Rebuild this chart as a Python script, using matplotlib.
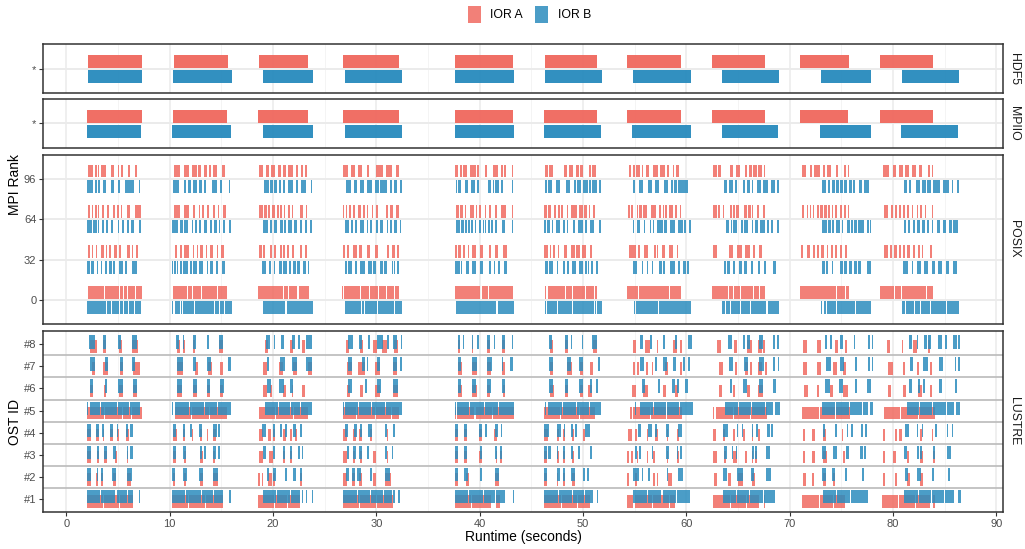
import matplotlib
matplotlib.use("Agg")
import matplotlib.pyplot as plt
from matplotlib.patches import Rectangle

plt.rcParams['font.family'] = ['Liberation Sans', 'DejaVu Sans']

# DATA - (start, end) in seconds
# HDF5 and MPIIO: one long bar per iteration
hdf5_a = [(2.10, 7.33), (10.42, 15.65), (18.65, 23.39), (26.78, 32.20), (37.62, 43.23),
          (46.30, 51.33), (54.29, 59.52), (62.49, 67.59), (70.98, 75.78), (78.78, 83.88)]
hdf5_b = [(2.10, 7.33), (10.33, 16.04), (19.03, 23.87), (26.97, 32.49), (37.62, 43.33),
          (46.30, 51.81), (54.81, 60.49), (63.46, 68.94), (73.01, 77.91), (80.90, 86.39)]
mpiio_a = [(2.00, 7.33), (10.33, 15.55), (18.55, 23.39), (26.78, 32.20), (37.62, 43.23),
           (46.20, 51.33), (54.29, 59.52), (62.49, 67.59), (70.98, 75.68), (78.78, 83.88)]
mpiio_b = [(2.00, 7.23), (10.23, 15.94), (19.03, 23.87), (26.97, 32.49), (37.62, 43.33),
           (46.20, 51.72), (54.78, 60.43), (63.46, 68.85), (72.91, 77.91), (80.81, 86.29)]

# POSIX, per MPI rank
rank_ticks = [0, 32, 64, 96]
posix_a_0 = [(2.10, 3.63), (3.73, 5.08), (5.18, 5.47), (5.57, 5.89), (5.99, 6.60), (6.70, 7.33),
             (10.33, 11.63), (11.73, 12.12), (12.22, 12.99), (13.09, 14.60), (14.70, 15.55),
             (18.55, 20.95), (21.05, 21.41), (21.51, 22.37), (22.47, 23.49),
             (26.70, 26.80), (26.90, 28.44), (28.54, 29.27), (29.37, 30.14), (30.24, 30.95), (31.05, 31.75), (31.85, 32.20),
             (37.62, 40.08), (40.18, 40.85), (40.95, 43.23),
             (46.30, 46.42), (46.58, 48.28), (48.38, 48.95), (49.05, 50.18), (50.28, 51.08), (51.20, 51.33),
             (54.29, 55.30), (55.42, 58.28), (58.40, 59.52),
             (62.49, 64.08), (64.18, 64.50), (64.60, 65.15), (65.25, 66.44), (66.54, 67.02), (67.12, 67.59),
             (70.98, 74.47), (74.57, 75.34), (75.44, 75.78),
             (78.78, 80.08), (80.18, 80.76), (80.86, 83.22), (83.32, 83.88)]
posix_b_0 = [(2.00, 3.86), (3.96, 4.30), (4.40, 5.08), (5.18, 5.44), (5.54, 5.92), (6.02, 6.53), (6.63, 7.23),
             (10.23, 10.30), (10.38, 10.45), (10.55, 11.00), (11.08, 11.22), (11.32, 12.32), (12.42, 14.25), (14.35, 14.74), (14.84, 15.30), (15.40, 16.04),
             (19.03, 21.20), (21.32, 23.87),
             (26.97, 28.47), (28.57, 28.76), (28.86, 30.11), (30.21, 31.75), (31.85, 32.49),
             (37.70, 41.60), (41.78, 43.33),
             (46.30, 46.38), (46.52, 47.45), (47.55, 48.93), (49.03, 51.02), (51.12, 51.28), (51.40, 51.81),
             (54.81, 54.87), (54.95, 55.08), (55.18, 57.28), (57.38, 60.49),
             (63.46, 63.70), (63.80, 64.21), (64.31, 65.15), (65.25, 66.18), (66.28, 67.76), (67.86, 68.94),
             (73.01, 73.18), (73.28, 73.54), (73.64, 74.51), (74.61, 76.31), (76.41, 77.91),
             (80.90, 81.18), (81.28, 82.02), (82.12, 82.57), (82.67, 83.54), (83.64, 85.15), (85.25, 86.39)]
posix_a_32 = [(2.10, 2.30), (2.49, 2.61), (2.87, 2.97), (3.36, 3.65), (3.84, 3.97), (4.16, 4.35), (4.62, 4.94), (5.13, 5.26), (5.84, 6.16), (6.33, 6.48), (6.75, 6.91),
              (10.52, 10.68), (11.00, 11.17), (11.42, 11.85), (12.23, 12.36), (12.62, 12.78), (12.94, 13.26), (13.49, 13.65), (13.91, 14.23), (14.56, 14.71), (14.94, 15.26),
              (18.65, 18.97), (19.07, 19.26), (19.71, 19.88), (20.10, 20.29), (20.68, 20.84), (21.00, 21.16), (21.39, 21.58), (21.84, 22.04), (22.62, 22.78), (23.10, 23.26),
              (26.78, 26.97), (27.14, 27.39), (27.77, 28.10), (28.36, 28.59), (29.07, 29.39), (29.87, 30.20), (31.00, 31.26), (31.49, 31.80), (31.97, 32.20),
              (37.62, 37.85), (37.92, 38.17), (38.42, 38.58), (38.84, 38.94), (39.23, 39.62), (40.04, 40.36), (40.88, 41.07), (41.49, 41.81), (42.29, 42.62),
              (46.23, 46.65), (46.81, 46.94), (47.13, 47.26), (47.61, 47.71), (48.17, 48.43), (48.84, 49.20), (49.28, 49.71), (49.94, 50.27), (50.68, 50.88),
              (54.46, 54.70), (54.78, 55.10), (55.36, 55.52), (55.91, 56.32), (56.90, 57.04), (57.14, 57.29), (57.62, 57.94), (58.36, 58.68), (59.07, 59.23),
              (62.58, 62.94), (64.16, 64.55), (64.94, 65.36), (65.68, 66.17), (66.49, 66.65), (67.07, 67.33),
              (71.10, 71.33), (71.65, 71.97), (72.23, 72.46), (72.62, 72.88), (73.01, 73.33), (73.59, 73.75), (73.97, 74.17), (74.39, 74.56), (74.88, 75.04), (75.36, 75.55),
              (79.13, 79.55), (79.71, 79.88), (80.10, 80.36), (80.59, 80.78), (81.00, 81.17), (81.39, 81.65), (81.97, 82.14), (82.46, 82.62), (82.78, 82.94), (83.59, 83.75)]
posix_b_32 = [(2.00, 2.30), (2.39, 2.71), (2.94, 3.10), (3.33, 3.43), (3.75, 3.97), (4.16, 4.39), (4.55, 4.71), (5.13, 5.46), (5.68, 5.84), (6.33, 6.81),
              (10.23, 10.36), (10.45, 10.59), (10.68, 10.84), (11.00, 11.17), (11.32, 11.81), (11.97, 12.13), (12.29, 12.62), (12.84, 13.26), (13.59, 13.74), (13.91, 14.23), (14.49, 14.71), (15.04, 15.36),
              (18.94, 19.33), (19.65, 19.81), (20.10, 20.23), (20.56, 20.84), (20.94, 21.39), (21.58, 21.72), (21.97, 22.25), (22.33, 22.62), (22.94, 23.20), (23.39, 23.52),
              (26.97, 27.14), (27.29, 27.62), (27.94, 28.10), (28.42, 28.91), (29.23, 29.56), (29.71, 29.97), (30.36, 30.65), (30.72, 31.00), (31.49, 31.62), (31.71, 31.81), (31.97, 32.17),
              (37.62, 38.10), (38.20, 38.29), (38.68, 38.97), (39.23, 39.62), (40.04, 40.29), (40.88, 41.07), (41.36, 41.52), (41.75, 41.97), (42.36, 42.62),
              (46.33, 46.65), (46.74, 47.07), (47.46, 47.59), (48.10, 48.26), (48.42, 48.65), (48.91, 49.30), (49.65, 50.04), (50.20, 50.36), (50.46, 50.62), (50.78, 51.00), (51.23, 51.43),
              (54.84, 55.26), (55.68, 55.84), (56.17, 56.32), (56.65, 56.81), (57.33, 57.62), (57.72, 57.91), (58.42, 58.91), (59.23, 59.39), (59.71, 59.95), (60.02, 60.26),
              (63.65, 63.84), (63.97, 64.23), (64.55, 64.68), (65.13, 65.36), (65.62, 65.84), (66.23, 66.49), (66.97, 67.13), (67.52, 67.71), (68.36, 68.68),
              (73.14, 73.42), (73.50, 73.75), (74.07, 74.23), (74.88, 75.14), (75.29, 75.52), (75.78, 76.01), (76.23, 76.49), (76.65, 76.88), (77.46, 77.85),
              (81.00, 81.49), (81.81, 81.97), (82.30, 82.68), (83.04, 83.42), (83.75, 84.07), (84.39, 84.72), (85.14, 85.46), (85.84, 86.17)]
posix_a_64 = [(2.10, 2.30), (2.46, 2.61), (2.78, 2.94), (3.07, 3.19), (3.46, 3.65), (3.97, 4.13), (4.49, 4.71), (4.91, 5.07), (5.26, 5.42), (5.90, 6.19), (6.62, 7.20),
              (10.42, 11.00), (11.39, 11.85), (12.29, 12.46), (12.81, 12.94), (13.16, 13.33), (13.59, 13.84), (14.23, 14.39), (14.71, 14.81), (15.13, 15.46),
              (18.65, 19.05), (19.12, 19.40), (19.47, 19.71), (19.88, 20.20), (20.42, 20.58), (20.71, 20.87), (21.04, 21.19), (21.46, 21.62), (21.84, 21.97), (22.62, 22.94), (23.20, 23.32),
              (26.78, 26.90), (27.04, 27.14), (27.36, 27.52), (27.77, 27.97), (28.26, 28.49), (28.74, 28.91), (29.07, 29.23), (29.56, 29.71), (29.97, 30.20), (30.94, 31.16), (31.33, 31.65), (31.91, 32.20),
              (37.71, 38.00), (38.10, 38.39), (38.58, 38.68), (39.07, 39.23), (39.29, 39.45), (39.65, 39.75), (39.94, 40.10), (40.52, 40.65), (40.94, 41.07), (41.49, 41.65), (42.07, 42.23), (42.29, 42.55), (43.13, 43.23),
              (46.23, 46.49), (46.62, 46.91), (47.23, 47.36), (47.61, 47.78), (47.87, 48.04), (48.42, 48.55), (48.81, 49.01), (49.07, 49.39), (49.59, 49.97), (50.10, 50.36), (50.59, 50.68), (51.00, 51.16),
              (54.36, 54.55), (54.68, 54.87), (55.20, 55.36), (55.45, 55.68), (55.84, 56.17), (56.59, 57.04), (57.36, 57.52), (57.72, 57.84), (57.97, 58.16), (58.36, 58.68), (58.91, 59.07), (59.39, 59.49),
              (62.58, 62.94), (63.10, 63.26), (63.52, 63.65), (64.23, 64.46), (64.55, 64.68), (64.81, 65.07), (65.59, 65.90), (65.97, 66.23), (66.33, 66.49), (66.87, 67.07), (67.45, 67.59),
              (71.20, 71.42), (71.65, 71.75), (71.97, 72.10), (72.29, 72.39), (72.62, 72.81), (72.94, 73.25), (73.32, 73.59), (73.75, 73.91), (74.07, 74.23), (74.39, 74.56), (74.88, 75.04), (75.27, 75.43), (75.62, 75.72),
              (79.13, 79.55), (79.78, 79.97), (80.20, 80.36), (80.59, 80.75), (81.00, 81.17), (81.39, 81.58), (81.81, 81.97), (82.30, 82.39), (82.62, 82.78), (83.10, 83.20), (83.75, 83.88)]
posix_b_64 = [(2.00, 2.46), (2.55, 2.94), (3.07, 3.16), (3.48, 3.68), (3.84, 4.00), (4.33, 4.49), (4.97, 5.13), (5.39, 5.58), (5.90, 6.10), (6.29, 6.58), (7.06, 7.20),
              (10.23, 10.84), (11.03, 11.26), (11.39, 11.81), (12.13, 12.29), (12.48, 12.68), (12.87, 13.01), (13.33, 13.59), (13.91, 14.10), (14.32, 14.56), (14.75, 14.88), (15.19, 15.36), (15.77, 15.94),
              (19.03, 19.55), (19.71, 19.91), (20.10, 20.36), (20.68, 20.94), (21.10, 21.26), (21.48, 21.81), (22.04, 22.29), (22.62, 22.84), (23.13, 23.32), (23.58, 23.78),
              (26.97, 27.39), (27.55, 27.77), (27.94, 28.16), (28.42, 28.81), (29.07, 29.23), (29.39, 29.56), (29.97, 30.14), (30.36, 30.68), (31.00, 31.16), (31.33, 31.55), (31.71, 31.97), (32.29, 32.39),
              (37.71, 38.10), (38.20, 38.49), (38.62, 38.78), (38.91, 39.07), (39.19, 39.39), (39.55, 39.65), (39.97, 40.10), (40.30, 40.42), (40.52, 40.62), (40.81, 41.00), (41.10, 41.32), (41.52, 41.71), (42.13, 42.42), (43.13, 43.23),
              (46.23, 46.43), (46.55, 46.81), (46.97, 47.13), (47.39, 47.78), (48.10, 48.26), (48.42, 48.55), (49.07, 49.23), (49.55, 50.04), (50.20, 50.36), (50.68, 51.07), (51.55, 51.75),
              (54.84, 54.97), (55.20, 55.52), (55.91, 56.03), (56.49, 56.62), (56.75, 56.91), (57.13, 57.72), (57.84, 58.10), (58.42, 58.91), (59.23, 59.65), (59.78, 59.97), (60.23, 60.43),
              (63.84, 64.17), (64.31, 64.46), (64.55, 64.94), (65.27, 65.46), (65.59, 66.00), (66.33, 66.49), (66.65, 66.97), (67.13, 67.62), (67.78, 68.00), (68.17, 68.42), (68.75, 68.94),
              (73.14, 73.59), (73.75, 73.97), (74.14, 74.33), (74.49, 74.88), (75.04, 75.20), (75.58, 75.84), (75.91, 76.17), (76.26, 76.49), (76.65, 77.20), (77.46, 77.65), (77.80, 77.91),
              (81.07, 81.26), (81.49, 81.65), (81.91, 82.14), (82.36, 82.62), (82.78, 83.10), (83.27, 83.52), (83.75, 83.91), (84.23, 84.55), (84.81, 85.14), (85.45, 85.69), (85.84, 86.33)]
posix_a_96 = [(2.10, 2.61), (2.81, 2.94), (3.07, 3.19), (3.36, 3.84), (4.35, 4.65), (4.97, 5.13), (5.29, 5.46), (5.94, 6.19), (6.62, 6.84),
              (10.42, 11.00), (11.39, 11.85), (12.19, 12.62), (12.75, 13.04), (13.32, 13.59), (13.84, 13.97), (14.23, 14.61), (15.10, 15.39),
              (18.65, 19.07), (19.30, 19.65), (19.84, 20.23), (20.46, 20.75), (20.94, 21.26), (21.48, 21.97), (22.26, 22.39), (22.74, 22.88), (23.13, 23.32),
              (26.78, 27.29), (27.52, 27.91), (28.20, 28.62), (29.07, 29.32), (29.97, 30.62), (30.94, 31.52), (31.88, 32.20),
              (37.62, 37.94), (38.10, 38.29), (38.42, 38.78), (39.07, 39.62), (39.77, 39.97), (40.52, 40.74), (41.29, 41.81), (42.07, 42.23), (42.36, 42.55), (43.13, 43.23),
              (46.33, 46.65), (46.74, 47.13), (48.17, 48.49), (48.65, 49.01), (49.33, 49.59), (49.71, 49.97), (50.59, 50.81), (50.90, 51.26),
              (54.46, 54.65), (54.87, 55.00), (55.13, 55.52), (55.74, 55.84), (56.10, 56.42), (56.81, 57.26), (57.46, 57.94), (58.16, 58.36), (58.69, 58.81), (58.98, 59.30),
              (62.58, 62.94), (63.10, 63.36), (64.23, 64.55), (64.81, 65.20), (65.68, 65.90), (66.10, 66.33), (66.49, 66.81), (66.97, 67.33), (67.50, 67.59),
              (71.20, 71.60), (71.97, 72.20), (72.39, 72.94), (73.20, 73.43), (73.62, 73.98), (74.49, 74.71), (75.27, 75.43), (75.68, 75.78),
              (79.04, 79.64), (79.97, 80.29), (80.62, 81.00), (81.19, 81.58), (81.87, 82.23), (82.55, 82.78), (83.36, 83.58), (83.78, 83.88)]
posix_b_96 = [(2.00, 2.61), (2.78, 2.94), (3.07, 3.26), (3.55, 3.81), (4.35, 4.59), (4.97, 5.17), (5.65, 6.04), (6.10, 6.55), (7.04, 7.10),
              (10.33, 10.94), (11.42, 11.56), (11.81, 12.04), (12.23, 12.62), (12.87, 13.10), (13.30, 13.49), (14.10, 14.56), (14.87, 15.04), (15.77, 15.87),
              (19.13, 19.60), (19.68, 20.00), (20.06, 20.36), (20.61, 20.78), (21.00, 21.19), (21.46, 21.91), (22.23, 22.39), (22.71, 23.20), (23.68, 23.78),
              (27.07, 27.52), (27.87, 28.10), (28.42, 28.81), (29.07, 29.56), (29.87, 30.30), (30.40, 31.00), (31.33, 31.55), (31.71, 31.97), (32.29, 32.49),
              (37.71, 37.81), (37.91, 38.23), (38.58, 38.91), (39.19, 39.58), (39.77, 39.94), (40.81, 41.13), (41.29, 41.39), (41.52, 41.90), (42.07, 42.23), (43.13, 43.23),
              (46.33, 46.49), (46.62, 47.00), (47.39, 47.78), (48.36, 48.71), (49.13, 49.33), (49.45, 49.81), (49.97, 50.46), (50.56, 50.78), (50.87, 51.33), (51.55, 51.75),
              (54.84, 55.03), (55.42, 55.81), (56.32, 56.65), (56.97, 57.39), (57.84, 58.26), (58.52, 58.68), (58.78, 59.13), (59.23, 59.65), (59.71, 60.17),
              (63.65, 63.91), (64.10, 64.49), (64.71, 64.94), (65.52, 65.68), (65.84, 66.17), (66.33, 66.49), (66.87, 67.23), (67.45, 67.94), (68.17, 68.59), (68.75, 68.94),
              (73.14, 73.53), (73.69, 73.91), (74.10, 74.37), (74.52, 74.75), (74.88, 75.14), (75.29, 75.58), (75.78, 76.01), (76.16, 76.36), (76.74, 77.01), (77.17, 77.65),
              (81.07, 81.33), (81.55, 81.72), (82.23, 82.62), (82.78, 83.20), (83.33, 83.72), (83.91, 84.55), (84.82, 85.45), (85.69, 85.84), (86.17, 86.36)]

# LUSTRE, per OST
ost_labels = ['#1', '#2', '#3', '#4', '#5', '#6', '#7', '#8']
ost1_a = [(2.03, 3.50), (3.60, 5.10), (5.20, 6.48), (10.19, 11.80), (11.90, 13.40), (13.50, 15.13), (18.58, 20.10), (20.20, 21.40), (21.50, 22.61),
          (26.74, 28.30), (28.40, 30.00), (30.10, 31.60), (37.62, 39.20), (39.30, 41.07), (41.59, 41.98), (46.23, 47.90), (48.00, 49.40), (49.50, 50.69),
          (54.30, 54.88), (55.04, 56.70), (56.80, 58.30), (58.40, 58.90), (62.62, 64.20), (64.30, 65.80), (65.90, 67.07), (67.52, 67.62),
          (71.17, 72.80), (72.90, 74.20), (74.30, 75.36), (78.91, 80.50), (80.60, 82.10), (82.20, 83.59), (83.91, 84.07)]
ost1_b = [(2.03, 3.30), (3.40, 4.71), (4.87, 5.90), (6.00, 6.48), (7.06, 7.13), (10.19, 11.50), (11.60, 13.00), (13.10, 14.20), (14.30, 15.19), (15.77, 15.90),
          (19.00, 20.30), (20.40, 21.60), (21.70, 22.61), (22.77, 22.94), (23.19, 23.32), (23.74, 23.90), (26.81, 28.10), (28.20, 29.40), (29.50, 30.60),
          (30.70, 31.50), (31.65, 31.81), (32.14, 32.30), (37.62, 38.90), (39.00, 40.30), (40.40, 41.50), (41.60, 42.46), (43.27, 43.33),
          (46.23, 47.60), (47.70, 48.90), (49.00, 50.10), (50.20, 51.01), (51.33, 51.49), (54.88, 56.20), (56.30, 57.60), (57.70, 59.00), (59.10, 60.36),
          (63.52, 64.80), (64.90, 66.10), (66.20, 67.40), (67.50, 68.59), (73.20, 74.50), (74.60, 75.80), (75.90, 77.62),
          (81.07, 82.40), (82.50, 83.70), (83.80, 84.90), (85.00, 85.91), (86.33, 86.56)]
ost2_a = [(2.03, 2.35), (2.87, 3.03), (3.32, 3.52), (4.48, 4.81), (5.84, 6.23), (10.35, 10.52), (11.39, 11.58), (12.94, 13.26), (14.23, 14.71),
          (18.58, 18.74), (18.90, 19.06), (19.55, 19.87), (20.03, 20.19), (22.61, 22.77), (26.81, 27.13), (27.61, 27.94), (28.35, 28.58), (29.71, 29.97), (30.84, 31.39),
          (37.62, 37.94), (38.69, 39.01), (41.49, 41.91), (46.23, 46.56), (47.46, 47.62), (48.10, 48.27), (48.91, 49.23),
          (54.23, 54.49), (55.04, 55.27), (56.81, 56.98), (57.14, 57.30), (58.27, 58.59), (62.69, 62.94), (64.07, 64.30), (65.04, 65.52), (66.33, 66.65),
          (71.33, 71.59), (72.14, 72.36), (73.20, 73.52), (74.17, 74.40), (79.01, 79.23), (80.20, 80.43), (81.33, 81.65), (82.62, 82.88)]
ost2_b = [(2.03, 2.35), (2.94, 3.10), (3.32, 3.52), (4.39, 4.81), (5.84, 6.32), (10.19, 10.52), (11.32, 11.65), (12.87, 13.19), (14.23, 14.71),
          (19.39, 19.65), (20.03, 20.29), (21.16, 21.32), (21.97, 22.23), (22.61, 22.77), (27.06, 27.39), (27.61, 27.94), (28.10, 28.48), (29.39, 29.55), (30.84, 31.32),
          (37.62, 37.94), (38.49, 38.91), (40.04, 40.20), (41.49, 41.91), (46.23, 46.56), (47.46, 47.78), (48.10, 48.27), (48.81, 49.23), (50.04, 50.20), (50.36, 50.62),
          (54.88, 55.46), (55.69, 55.85), (56.33, 56.49), (58.10, 58.27), (59.24, 59.65), (63.52, 63.98), (64.94, 65.52), (66.23, 66.56), (67.72, 68.17),
          (73.10, 73.52), (74.07, 74.40), (75.36, 75.59), (76.98, 77.20), (81.17, 81.49), (82.30, 82.69), (83.75, 83.98), (85.36, 85.52)]
ost3_a = [(2.03, 2.35), (2.94, 3.16), (3.65, 3.90), (4.71, 4.87), (5.84, 6.00), (10.35, 10.61), (11.39, 11.58), (12.94, 13.19), (14.23, 14.39),
          (18.68, 19.00), (19.65, 19.97), (21.00, 21.16), (21.65, 21.81), (26.74, 27.13), (27.77, 27.94), (28.42, 28.58), (29.71, 29.97), (31.00, 31.16),
          (37.62, 37.94), (38.49, 38.81), (39.98, 40.20), (41.59, 41.72), (41.98, 42.14), (46.23, 46.49), (47.46, 47.72), (48.10, 48.27), (48.91, 49.14),
          (54.30, 54.49), (54.62, 54.81), (55.20, 55.36), (56.17, 56.33), (56.81, 56.98), (58.10, 58.27), (59.14, 59.33),
          (62.62, 62.94), (63.65, 63.85), (64.56, 64.88), (65.68, 65.85), (66.33, 66.49), (66.65, 66.88), (71.27, 71.49), (72.14, 72.46), (73.20, 73.65), (75.20, 75.36),
          (79.01, 79.23), (80.04, 80.30), (81.33, 81.59), (82.62, 82.88), (83.91, 84.07)]
ost3_b = [(2.03, 2.35), (2.94, 3.16), (3.65, 3.90), (4.55, 4.81), (5.84, 6.00), (6.16, 6.42), (10.35, 10.61), (11.32, 11.58), (12.94, 13.10), (13.32, 13.52),
          (14.23, 14.48), (14.71, 14.87), (19.06, 19.32), (19.97, 20.19), (21.00, 21.16), (21.65, 21.81), (22.45, 22.61), (22.77, 22.94),
          (27.13, 27.39), (27.77, 28.03), (28.35, 28.58), (29.06, 29.32), (30.84, 31.06), (31.48, 31.65), (37.62, 37.94), (38.49, 38.81), (40.04, 40.20),
          (41.49, 41.72), (41.98, 42.14), (46.23, 46.49), (46.65, 46.88), (47.46, 47.62), (48.10, 48.27), (48.85, 49.07), (49.56, 49.72), (50.69, 50.85),
          (55.04, 55.27), (55.46, 55.59), (56.65, 56.81), (58.04, 58.36), (59.07, 59.24), (59.40, 59.56), (63.65, 63.98), (64.39, 64.56), (64.81, 64.94),
          (66.33, 66.55), (66.65, 66.88), (67.72, 68.10), (73.10, 73.52), (74.23, 74.62), (75.46, 75.78), (76.81, 77.14), (77.20, 77.39),
          (81.07, 81.33), (82.30, 82.50), (82.58, 82.78), (83.91, 84.07), (85.20, 85.59)]
ost4_a = [(2.03, 2.35), (2.87, 3.19), (3.52, 3.65), (4.23, 4.55), (4.94, 5.13), (5.77, 6.10), (10.35, 10.68), (11.32, 11.48), (12.13, 12.29), (12.94, 13.10),
          (13.58, 13.74), (14.23, 14.48), (18.68, 19.06), (19.55, 19.77), (20.03, 20.19), (21.00, 21.26), (21.65, 21.81), (22.13, 22.35),
          (26.81, 27.19), (27.77, 28.03), (28.35, 28.58), (29.39, 29.55), (31.00, 31.16), (37.62, 37.94), (38.49, 38.81), (39.98, 40.20), (41.39, 41.65),
          (46.23, 46.65), (47.46, 47.72), (48.10, 48.27), (48.91, 49.14), (50.04, 50.20), (54.40, 54.72), (55.04, 55.20), (56.17, 56.33), (56.98, 57.30),
          (58.10, 58.27), (59.07, 59.33), (62.62, 62.88), (63.52, 63.75), (64.56, 64.72), (65.52, 65.68), (66.33, 66.49), (66.98, 67.14),
          (71.33, 71.49), (72.14, 72.46), (73.20, 73.52), (75.04, 75.20), (79.07, 79.23), (80.20, 80.36), (80.62, 80.85), (82.62, 82.78), (83.75, 83.91)]
ost4_b = [(2.03, 2.35), (2.87, 3.19), (3.42, 3.65), (4.23, 4.55), (4.87, 5.03), (5.77, 6.00), (6.16, 6.42), (10.35, 10.61), (11.26, 11.48), (11.97, 12.13),
          (12.87, 13.10), (14.23, 14.55), (14.71, 14.87), (18.90, 19.32), (19.97, 20.19), (20.68, 20.84), (21.16, 21.39), (21.97, 22.23), (22.61, 22.77),
          (26.97, 27.29), (27.84, 28.10), (28.42, 28.58), (29.23, 29.55), (30.84, 31.06), (31.65, 31.81), (37.62, 37.94), (38.49, 38.81), (39.98, 40.20),
          (40.52, 40.68), (41.49, 41.81), (42.07, 42.20), (46.23, 46.75), (47.46, 47.85), (48.17, 48.27), (48.85, 49.07), (49.23, 49.46), (50.20, 50.69),
          (55.36, 55.59), (56.33, 56.65), (56.98, 57.20), (58.04, 58.36), (59.24, 59.56), (63.59, 64.07), (64.88, 65.04), (65.36, 65.52), (66.33, 66.49),
          (66.75, 66.98), (67.78, 68.10), (68.17, 68.36), (73.20, 73.43), (74.40, 74.62), (75.52, 75.69), (75.91, 76.10), (76.88, 77.14), (77.30, 77.46),
          (81.17, 81.59), (82.30, 82.46), (82.78, 82.94), (84.07, 84.30), (85.20, 85.36), (85.69, 85.85)]
ost5_a = [(2.03, 3.60), (3.70, 5.40), (5.50, 6.30), (6.40, 7.29), (10.52, 12.10), (12.20, 13.80), (13.90, 15.52),
          (18.68, 20.20), (20.30, 21.90), (22.00, 23.42), (26.81, 28.00), (28.10, 29.90), (30.00, 31.40), (31.50, 32.20),
          (37.62, 37.70), (37.78, 39.50), (39.60, 41.20), (41.30, 43.33), (46.23, 47.80), (47.90, 49.60), (49.70, 51.17),
          (54.56, 54.70), (54.88, 56.50), (56.60, 58.00), (58.10, 59.56), (62.62, 62.72), (62.85, 64.50), (64.60, 66.20), (66.30, 67.78),
          (71.17, 72.80), (72.90, 74.40), (74.50, 75.85), (79.14, 80.70), (80.80, 82.40), (82.50, 84.07)]
ost5_b = [(2.03, 2.10), (2.29, 3.30), (3.40, 4.90), (5.00, 6.10), (6.20, 7.13), (10.26, 10.33), (10.52, 11.90), (12.00, 13.30), (13.40, 14.60), (14.70, 15.90),
          (19.23, 20.50), (20.60, 21.60), (21.70, 22.60), (22.70, 23.74), (26.81, 26.88), (26.97, 28.20), (28.30, 29.50), (29.60, 30.80), (30.90, 32.49),
          (37.62, 37.72), (37.78, 39.00), (39.10, 40.40), (40.50, 41.80), (41.90, 43.33), (46.33, 46.42), (46.65, 48.00), (48.10, 49.30), (49.40, 50.60), (50.70, 51.72),
          (55.04, 55.12), (55.52, 56.80), (56.90, 58.00), (58.10, 59.30), (59.40, 60.69), (63.75, 65.00), (65.10, 66.30), (66.40, 67.60), (67.70, 68.40), (68.60, 69.07),
          (73.10, 74.40), (74.50, 75.70), (75.80, 77.00), (77.10, 77.60), (77.80, 78.10), (81.33, 82.50), (82.60, 83.80), (83.90, 85.10), (85.20, 85.90), (86.10, 86.49)]
ost6_a = [(2.29, 2.61), (3.65, 3.84), (5.13, 5.52), (6.48, 6.87), (10.74, 11.16), (12.29, 12.61), (13.65, 13.90), (14.87, 15.13), (19.00, 19.39), (19.71, 19.87),
          (21.00, 21.26), (21.81, 21.97), (22.77, 23.10), (27.13, 27.45), (28.42, 28.74), (29.87, 30.35), (31.59, 32.14), (37.94, 38.27), (39.23, 39.78),
          (40.75, 41.01), (42.23, 42.46), (46.81, 47.20), (48.27, 48.59), (49.72, 49.98), (50.52, 50.85), (54.72, 55.14), (55.85, 56.33), (57.72, 58.04),
          (58.91, 59.24), (63.20, 63.43), (64.56, 64.72), (65.85, 66.17), (66.98, 67.39), (71.39, 71.81), (72.69, 72.88), (73.91, 74.17), (75.20, 75.69),
          (79.56, 79.78), (80.94, 81.27), (82.46, 82.78), (83.59, 83.81)]
ost6_b = [(2.29, 2.61), (3.74, 3.90), (5.03, 5.45), (6.42, 6.81), (10.68, 11.16), (12.23, 12.61), (13.65, 13.90), (14.87, 15.26), (19.39, 19.77), (20.61, 21.06),
          (21.65, 21.97), (27.29, 27.61), (28.90, 29.13), (30.03, 30.42), (31.59, 32.14), (37.88, 38.17), (39.23, 39.65), (40.75, 41.07), (42.14, 42.46),
          (46.75, 47.14), (48.27, 48.59), (49.65, 49.98), (50.69, 50.85), (51.27, 51.49), (55.69, 56.01), (57.30, 57.46), (58.59, 58.91), (59.14, 59.33),
          (59.88, 60.20), (64.23, 64.39), (65.52, 65.85), (67.07, 67.39), (68.43, 68.68), (73.43, 73.91), (74.81, 75.20), (76.33, 76.49), (77.52, 77.85),
          (81.59, 81.85), (82.46, 82.62), (82.94, 83.10), (84.49, 84.72), (86.01, 86.23)]
ost7_a = [(2.45, 2.77), (3.58, 4.06), (5.19, 5.52), (6.48, 7.13), (10.68, 11.26), (12.45, 12.77), (13.74, 14.06), (14.87, 15.19), (19.06, 19.39), (20.61, 21.00),
          (21.97, 22.29), (23.42, 23.74), (27.13, 27.61), (28.26, 28.90), (29.87, 30.35), (31.65, 32.04), (37.94, 38.27), (39.23, 39.78), (40.75, 41.07),
          (42.20, 42.46), (46.81, 47.14), (48.43, 48.91), (49.72, 50.04), (50.69, 51.01), (54.88, 55.04), (55.20, 55.46), (56.10, 56.33), (56.65, 56.81),
          (57.94, 58.27), (59.40, 59.56), (63.20, 63.52), (64.72, 64.94), (65.68, 66.01), (66.17, 66.33), (66.98, 67.30), (67.62, 67.78),
          (71.33, 71.65), (72.62, 73.01), (74.23, 74.56), (75.20, 75.46), (79.56, 79.98), (80.94, 81.17), (82.30, 82.56), (83.59, 83.75)]
ost7_b = [(2.29, 2.77), (3.74, 4.06), (5.19, 5.52), (6.39, 6.65), (10.68, 11.26), (12.23, 12.55), (13.58, 13.97), (15.68, 15.90), (19.39, 19.65), (20.68, 21.16),
          (21.81, 22.29), (23.19, 23.74), (27.23, 27.61), (28.58, 28.90), (29.06, 29.23), (30.03, 30.35), (31.65, 31.98), (32.30, 32.46), (37.88, 38.17),
          (39.23, 39.72), (40.68, 41.17), (42.14, 42.30), (42.94, 43.27), (46.75, 47.14), (48.43, 48.81), (49.65, 49.98), (51.49, 51.65), (55.52, 55.91),
          (56.98, 57.14), (57.78, 58.10), (58.69, 59.01), (59.72, 59.88), (60.20, 60.36), (64.17, 64.56), (65.59, 66.01), (67.07, 67.52), (68.36, 68.59),
          (68.85, 68.98), (73.52, 73.98), (74.88, 75.27), (76.33, 76.49), (77.62, 77.78), (77.94, 78.10), (81.65, 81.98), (82.94, 83.43), (84.49, 84.88),
          (86.01, 86.15), (86.30, 86.49)]
ost8_a = [(2.29, 2.94), (3.52, 3.84), (5.13, 5.35), (6.32, 6.97), (10.68, 11.00), (11.26, 11.45), (12.29, 12.45), (14.77, 15.13), (19.23, 19.55), (21.65, 21.90),
          (22.77, 23.10), (27.06, 27.39), (28.42, 28.68), (29.71, 30.03), (30.52, 31.00), (31.72, 32.14), (37.94, 38.10), (39.23, 39.39), (40.68, 41.01),
          (42.20, 42.46), (46.81, 47.07), (48.27, 48.59), (51.01, 51.33), (54.88, 55.14), (56.01, 56.49), (57.14, 57.30), (58.75, 59.07), (59.40, 59.56),
          (63.01, 63.33), (64.65, 64.88), (65.85, 66.33), (66.98, 67.30), (67.46, 67.62), (71.33, 71.72), (72.62, 73.01), (74.40, 74.72), (75.36, 75.59),
          (79.39, 79.72), (80.85, 81.01), (81.98, 82.30), (83.36, 83.59)]
ost8_b = [(2.22, 2.77), (3.58, 3.84), (5.03, 5.26), (6.39, 6.81), (10.61, 10.87), (11.26, 11.42), (12.29, 12.55), (13.58, 13.77), (14.77, 15.13), (19.32, 19.71),
          (20.10, 20.19), (20.77, 21.06), (21.84, 22.13), (22.45, 22.61), (23.19, 23.74), (27.23, 27.77), (28.35, 28.58), (29.16, 29.39), (30.03, 30.68),
          (31.06, 31.26), (31.65, 32.04), (32.39, 32.49), (37.88, 38.10), (38.43, 38.52), (39.23, 39.39), (39.78, 39.94), (40.68, 41.01), (41.39, 41.52),
          (42.20, 42.46), (43.17, 43.27), (46.72, 46.98), (48.27, 48.59), (48.85, 48.94), (49.88, 49.98), (50.91, 51.33), (55.52, 55.85), (56.49, 56.65),
          (57.78, 57.94), (58.91, 59.14), (60.20, 60.52), (64.07, 64.39), (65.46, 65.68), (65.85, 66.17), (67.07, 67.46), (68.43, 68.59), (68.81, 68.98),
          (73.43, 73.65), (73.91, 74.07), (74.88, 75.20), (76.23, 76.36), (77.62, 77.78), (77.94, 78.10), (81.59, 81.81), (82.30, 82.46), (83.01, 83.27),
          (83.43, 83.65), (84.40, 84.72), (85.04, 85.20), (85.85, 86.17), (86.33, 86.49)]

posix_rows = [(0, posix_a_0, posix_b_0), (32, posix_a_32, posix_b_32),
              (64, posix_a_64, posix_b_64), (96, posix_a_96, posix_b_96)]
ost_rows = [(1, ost1_a, ost1_b), (2, ost2_a, ost2_b), (3, ost3_a, ost3_b), (4, ost4_a, ost4_b),
            (5, ost5_a, ost5_b), (6, ost6_a, ost6_b), (7, ost7_a, ost7_b), (8, ost8_a, ost8_b)]

RED = '#F06A60'
BLUE = '#2B8CBE'

W, H = 1025, 549
fig = plt.figure(figsize=(W / 100, H / 100), dpi=100)


def panel(top, bottom):
    # panel position given in pixels from the top left corner
    ax = fig.add_axes([43.3 / W, 1 - bottom / H, 960 / W, (bottom - top) / H])
    ax.set_xlim(-2.23, 90.68)
    ax.set_xticks(range(0, 91, 10))
    ax.set_xticks(range(5, 90, 10), minor=True)
    ax.set_axisbelow(True)
    ax.grid(which='major', axis='x', color='#EBEBEB', lw=1.1)
    ax.grid(which='minor', axis='x', color='#F2F2F2', lw=0.6)
    for s in ax.spines.values():
        s.set_color('#333333')
        s.set_linewidth(1.1)
    ax.tick_params(axis='x', which='both', length=0, labelbottom=False)
    ax.tick_params(axis='y', length=3, width=0.8, color='#333333',
                   labelsize=8, labelcolor='#4D4D4D', pad=2)
    return ax


def bars(ax, spans, y0, y1, color, alpha):
    ax.broken_barh([(s, e - s) for s, e in spans], (y0, y1 - y0),
                   facecolors=color, alpha=alpha, linewidth=0, zorder=2)


# HDF5 and MPIIO
for top, bottom, a, b, name in [(44.3, 93.0, hdf5_a, hdf5_b, 'HDF5'),
                                (99.3, 147.7, mpiio_a, mpiio_b, 'MPIIO')]:
    ax = panel(top, bottom)
    ax.set_ylim(0.4, 1.6)
    ax.set_yticks([1])
    ax.set_yticklabels(['*'])
    ax.grid(which='major', axis='y', color='#EBEBEB', lw=1.4)
    bars(ax, a, 1.02, 1.335, RED, 0.97)
    bars(ax, b, 0.65, 0.965, BLUE, 0.97)
    fig.text(1014 / W, 1 - (top + bottom) / 2 / H, name, rotation=-90, ha='center', va='center',
             fontsize=8.8, color='#1A1A1A')

# POSIX
ax = panel(154.5, 323.7)
ax.set_ylim(-18.5, 115.4)
ax.set_yticks(rank_ticks)
ax.grid(which='major', axis='y', color='#EBEBEB', lw=1.4)
for r, a, b in posix_rows:
    bars(ax, a, r + 1.2, r + 11.4, RED, 0.85)
    bars(ax, b, r - 11.0, r - 0.7, BLUE, 0.85)
fig.text(1014 / W, 1 - 239 / H, 'POSIX', rotation=-90, ha='center', va='center',
         fontsize=8.8, color='#1A1A1A')

# LUSTRE
ax = panel(331.0, 512.3)
ax.set_ylim(0.4, 8.6)
ax.set_yticks(range(1, 9))
ax.set_yticklabels(ost_labels)
for k in range(1, 8):
    ax.axhline(k + 0.5, color='#BFBFBF', lw=1.3, zorder=1)
for r, a, b in ost_rows:
    bars(ax, a, r - 0.39, r + 0.18, RED, 0.85)
for r, a, b in ost_rows:
    bars(ax, b, r - 0.2, r + 0.41, BLUE, 0.85)
ax.tick_params(axis='x', which='major', length=3, width=0.8, color='#333333',
               labelbottom=True, labelsize=8, labelcolor='#4D4D4D', pad=2)
fig.text(1014 / W, 1 - 421.6 / H, 'LUSTRE', rotation=-90, ha='center', va='center',
         fontsize=8.8, color='#1A1A1A')

# axis titles
fig.text(15 / W, 1 - 184 / H, 'MPI Rank', rotation=90, ha='center', va='center', fontsize=10)
fig.text(15 / W, 1 - 421.6 / H, 'OST ID', rotation=90, ha='center', va='center', fontsize=10)
fig.text(523 / W, 1 - 537.5 / H, 'Runtime (seconds)', ha='center', va='center', fontsize=10)

# legend on top
for x0, col, label in [(468, RED, 'IOR A'), (535, BLUE, 'IOR B')]:
    fig.patches.append(Rectangle((x0 / W, 1 - 23 / H), 13 / W, 17 / H, transform=fig.transFigure,
                                 facecolor=col, alpha=0.85, linewidth=0))
    fig.text((x0 + 22.5) / W, 1 - 14.5 / H, label, ha='left', va='center', fontsize=8.8)

fig.savefig('out.png', dpi=100)
